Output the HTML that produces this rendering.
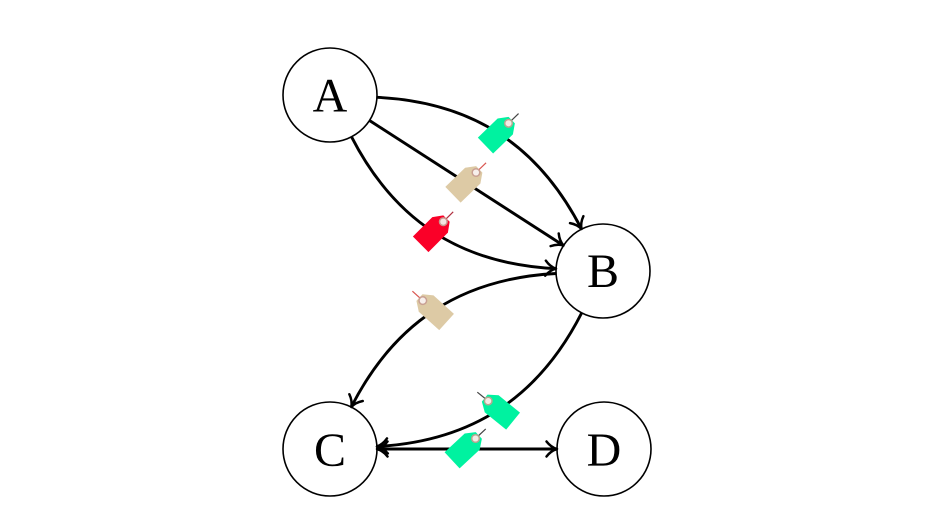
<!DOCTYPE html>
<html>
<head>
<meta charset="utf-8">
<style>
  html, body { margin: 0; padding: 0; background: #ffffff; }
  body { width: 952px; height: 524px; overflow: hidden; }
  svg { display: block; }
</style>
</head>
<body>
<svg width="952" height="524" viewBox="0 0 952 524" xmlns="http://www.w3.org/2000/svg">
  <defs>
    <marker id="ar" markerUnits="userSpaceOnUse" markerWidth="20" markerHeight="20" refX="0" refY="0" orient="auto-start-reverse" overflow="visible">
      <path d="M-10.5,-7.5 C-7,-3 -2.8,-0.8 0,0 C-2.8,0.8 -7,3 -10.5,7.5" fill="none" stroke="#000" stroke-width="2.5" stroke-linecap="round" stroke-linejoin="round"/>
    </marker>
  </defs>

  <rect width="952" height="524" fill="#ffffff"/>

  <!-- nodes -->
  <g fill="#ffffff" stroke="#000" stroke-width="1.6">
    <circle cx="330" cy="95" r="47"/>
    <circle cx="603" cy="271" r="47"/>
    <circle cx="330" cy="449" r="47"/>
    <circle cx="604" cy="449" r="47"/>
  </g>
  <g font-family="'Liberation Serif', 'DejaVu Serif', serif" font-size="48" text-anchor="middle" fill="#000">
    <text x="330" y="111.5">A</text>
    <text x="603" y="287">B</text>
    <text x="330" y="466">C</text>
    <text x="604" y="466">D</text>
  </g>

  <!-- edges -->
  <g fill="none" stroke="#000" stroke-width="2.9">
    <path d="M377,97.3 C471.9,101.9 538,144.5 581.5,229" marker-end="url(#ar)"/>
    <path d="M369.5,120.5 L563.5,245.5" marker-end="url(#ar)"/>
    <path d="M351.5,136.8 C394.9,221.3 461.1,264 556,268.7" marker-end="url(#ar)"/>
    <path d="M556,273.5 C461,278.6 394.3,322.3 351.3,407" marker-end="url(#ar)"/>
    <path d="M581.7,312.9 C538.7,397.6 471.8,441.4 376.9,446.5" marker-end="url(#ar)"/>
    <path d="M377,449 L557,449" marker-start="url(#ar)" marker-end="url(#ar)"/>
  </g>

  <!-- tags: local origin at hole, tip toward +x -->
  <g transform="translate(508.5,123.3) rotate(-44)">
    <polygon points="-32,-11 -4.5,-11 4.5,-4.5 4.5,4.5 -4.5,11 -32,11" fill="#00F2A0"/>
    <line x1="0" y1="0" x2="14" y2="0" stroke="#444" stroke-width="1.2"/>
    <circle cx="0" cy="0" r="3.8" fill="#f3ece6" stroke="#b9a590" stroke-width="1.5"/>
  </g>
  <g transform="translate(476,172.5) rotate(-44)">
    <polygon points="-32,-11 -4.5,-11 4.5,-4.5 4.5,4.5 -4.5,11 -32,11" fill="#DDCAA5"/>
    <line x1="0" y1="0" x2="14" y2="0" stroke="#d9554f" stroke-width="1.2"/>
    <circle cx="0" cy="0" r="3.8" fill="#f7efec" stroke="#c9a093" stroke-width="1.5"/>
  </g>
  <g transform="translate(443.3,221.7) rotate(-45)">
    <polygon points="-32,-11 -4.5,-11 4.5,-4.5 4.5,4.5 -4.5,11 -32,11" fill="#FA0028"/>
    <line x1="0" y1="0" x2="14" y2="0" stroke="#b03040" stroke-width="1.2"/>
    <circle cx="0" cy="0" r="3.8" fill="#f3e6e2" stroke="#c89a90" stroke-width="1.5"/>
  </g>
  <g transform="translate(422.8,300.6) rotate(-138)">
    <polygon points="-32,-11 -4.5,-11 4.5,-4.5 4.5,4.5 -4.5,11 -32,11" fill="#DDCAA5"/>
    <line x1="0" y1="0" x2="14" y2="0" stroke="#d9554f" stroke-width="1.2"/>
    <circle cx="0" cy="0" r="3.8" fill="#f7efec" stroke="#c9a093" stroke-width="1.5"/>
  </g>
  <g transform="translate(488.2,401) rotate(-141)">
    <polygon points="-32,-11 -4.5,-11 4.5,-4.5 4.5,4.5 -4.5,11 -32,11" fill="#00F2A0"/>
    <line x1="0" y1="0" x2="14" y2="0" stroke="#444" stroke-width="1.2"/>
    <circle cx="0" cy="0" r="3.8" fill="#f3ece6" stroke="#b9a590" stroke-width="1.5"/>
  </g>
  <g transform="translate(475.5,438.5) rotate(-43)">
    <polygon points="-32,-11 -4.5,-11 4.5,-4.5 4.5,4.5 -4.5,11 -32,11" fill="#00F2A0"/>
    <line x1="0" y1="0" x2="14" y2="0" stroke="#444" stroke-width="1.2"/>
    <circle cx="0" cy="0" r="3.8" fill="#f3ece6" stroke="#b9a590" stroke-width="1.5"/>
  </g>
</svg>
</body>
</html>
